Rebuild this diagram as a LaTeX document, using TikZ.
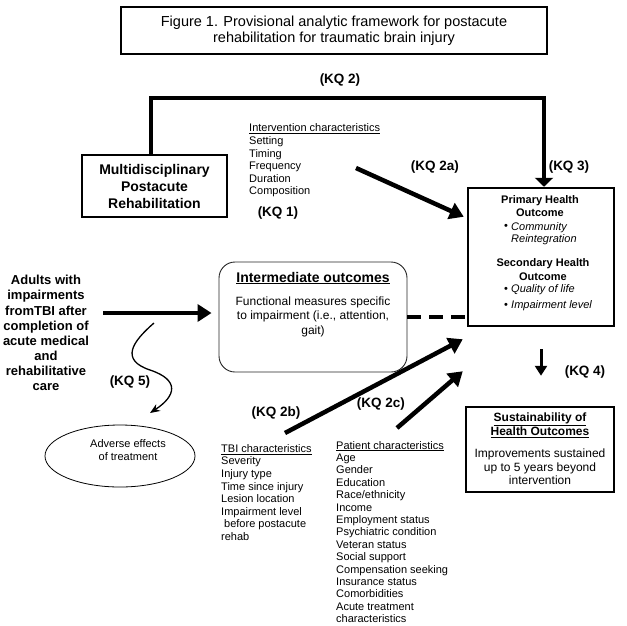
\documentclass[tikz,border=0pt]{standalone}
\usepackage{fontspec}
\setmainfont{Liberation Sans}
\usetikzlibrary{arrows.meta,calc,shapes.geometric}
\begin{document}
\begin{tikzpicture}[x=1pt,y=-1pt,
  txt/.style={inner sep=0pt, font=\fontsize{11}{12.6}\selectfont},
  kq/.style={inner sep=0pt, font=\fontsize{13.5}{16}\selectfont\bfseries},
  box/.style={draw, line width=2.5pt, inner sep=0pt},
  bigarrow/.style={line width=4.5pt, -{Triangle[length=14pt,width=17pt]}},
  bul/.style={inner sep=0pt, font=\fontsize{11}{12}\selectfont}
]
\fill[white] (0,0) rectangle (627,625);
\useasboundingbox (0,0) rectangle (627,625);

% title
\node[draw, line width=1.2pt, minimum width=426pt, minimum height=47pt, align=center,
  font=\fontsize{14.5}{16}\selectfont] (title) at (334,30.5)
  {Figure 1. Provisional analytic framework for postacute\\rehabilitation for traumatic brain injury};

% boxes
\node[box, minimum width=145pt, minimum height=62pt, align=center,
  font=\fontsize{14}{17}\selectfont\bfseries] (multi) at (154.5,186)
  {Multidisciplinary\\Postacute\\Rehabilitation};
\node[box, minimum width=146pt, minimum height=138pt] (primary) at (541,257) {};
\node[box, minimum width=148pt, minimum height=85pt] (sustain) at (540,449.5) {};
\node[draw=black!85, line width=0.9pt, rounded corners=16pt, minimum width=188pt,
  minimum height=110pt] (inter) at (313,317) {};
\node[draw, ellipse, line width=0.8pt, minimum width=150pt, minimum height=62pt,
  inner sep=0pt] (adverse) at (120,456) {};

% adults
\node[inner sep=0pt, align=center, font=\fontsize{13}{15.1}\selectfont\bfseries] (adults) at (46,333)
  {Adults with\\impairments\\fromTBI after\\completion of\\acute medical\\and\\rehabilitative\\care};

% primary texts
\node[inner sep=0pt, align=center, font=\fontsize{11}{13}\selectfont\bfseries] (prim) at (540,206.5)
  {Primary Health\\Outcome};
\node[bul] (b1) at (506,227) {\textbullet};
\node[txt, anchor=west, align=left, font=\fontsize{11}{12.5}\selectfont\itshape] (comm) at (511,233.5)
  {Community\\Reintegration};
\node[inner sep=0pt, align=center, font=\fontsize{11}{14}\selectfont\bfseries] (sec) at (543,270)
  {Secondary Health\\Outcome};
\node[bul] (b2) at (506,290) {\textbullet};
\node[txt, anchor=west, font=\fontsize{11}{12.5}\selectfont\itshape] (qol) at (511,290) {Quality of life};
\node[bul] (b3) at (506,306) {\textbullet};
\node[txt, anchor=west, font=\fontsize{11}{12.5}\selectfont\itshape] (imp) at (511,306) {Impairment level};

% intermediate texts
\node[inner sep=0pt, font=\fontsize{14}{16}\selectfont\bfseries] (interh) at (313,278)
  {\underline{Intermediate outcomes}};
\node[inner sep=0pt, align=center, font=\fontsize{12}{14.5}\selectfont] (interb) at (313,316.5)
  {Functional measures specific\\to impairment (i.e., attention,\\gait)};

% sustain texts
\node[inner sep=0pt, align=center, font=\fontsize{12}{14}\selectfont\bfseries] (sush) at (540,425.5)
  {\underline{Sustainability of}\\\underline{Health Outcomes}};
\node[inner sep=0pt, align=center, font=\fontsize{12}{13.5}\selectfont] (susb) at (540,467)
  {Improvements sustained\\up to 5 years beyond\\intervention};

% adverse text
\node[inner sep=0pt, align=center, font=\fontsize{11}{13}\selectfont] (advt) at (128,450.5)
  {Adverse effects\\of treatment};

% lists
\node[txt, anchor=west, align=left] (intv) at (249,160.5)
  {\underline{Intervention characteristics}\\Setting\\Timing\\Frequency\\Duration\\Composition};
\node[txt, anchor=west, align=left] (tbi) at (221,492.5)
  {\underline{TBI characteristics}\\Severity\\Injury type\\Time since injury\\Lesion location\\Impairment level\\\hspace{3pt}before postacute\\rehab};
\node[txt, anchor=west, align=left, font=\fontsize{11}{12.4}\selectfont] (pat) at (336,532)
  {\underline{Patient characteristics}\\Age\\Gender\\Education\\Race/ethnicity\\Income\\Employment status\\Psychiatric condition\\Veteran status\\Social support\\Compensation seeking\\Insurance status\\Comorbidities\\Acute treatment\\characteristics};

% KQ labels
\node[kq] (kq2) at (340,80) {(KQ 2)};
\node[kq] (kq2a) at (435,167) {(KQ 2a)};
\node[kq] (kq3) at (569,167) {(KQ 3)};
\node[kq] (kq1) at (278,213) {(KQ 1)};
\node[kq] (kq4) at (585,372) {(KQ 4)};
\node[kq] (kq5) at (130,382) {(KQ 5)};
\node[kq] (kq2b) at (276,413) {(KQ 2b)};
\node[kq] (kq2c) at (381,404) {(KQ 2c)};

% connectors
\coordinate (tr) at (544,98);
\draw[line width=4pt, -{Triangle[length=9pt,width=18pt]}]
  ($(multi.north)+(-3.5,0)$) |- (tr) -- (tr |- primary.north);

\coordinate (a1) at (103,313);
\draw[bigarrow] (a1) -- ($(inter.west |- a1)+(-7,0)$);

\draw[line width=4pt, dash pattern=on 14pt off 8pt] (inter.east) -- (primary.west |- inter.east);

\coordinate (k2a) at (356,168);
\draw[bigarrow] (k2a) -- ($(primary.north west)+(-3,30)$);
\coordinate (k2b) at (285,433);
\draw[bigarrow] (k2b) -- ($(primary.south west)+(-4,12)$);
\coordinate (k2c) at (397,428);
\draw[bigarrow] (k2c) -- ($(primary.south west)+(-4,44)$);

\draw[line width=3pt, -{Triangle[length=10pt,width=12pt]}]
  ($(primary.south)+(0,22)$) -- ($(primary.south |- sustain.north)+(0,-30)$);

\coordinate (w0) at (154,323);
\coordinate (w1) at (150,370);
\coordinate (w2) at (150,413);
\draw[line width=1.3pt, -{Stealth[length=10pt,width=8pt]}]
  (w0) .. controls (132,342) and (120,360) .. (w1) .. controls (180,380) and (176,396) .. (w2);
\end{tikzpicture}
\end{document}
